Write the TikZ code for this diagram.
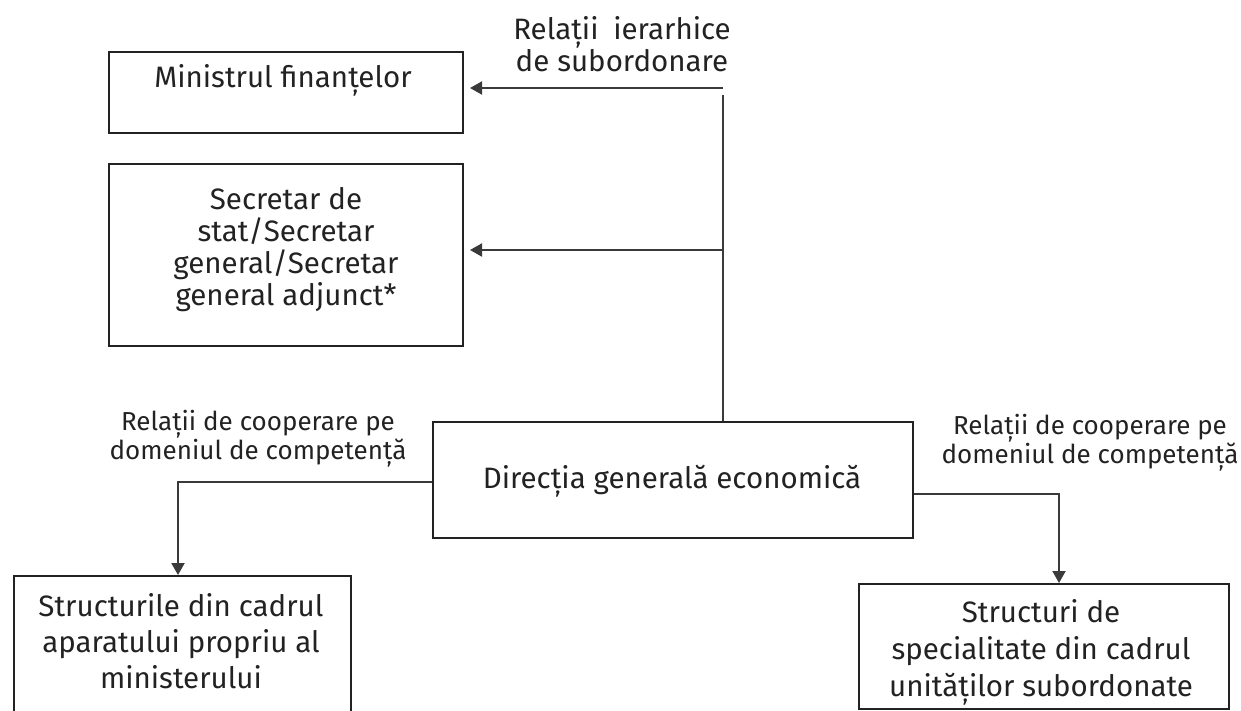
\documentclass[tikz,border=0pt]{standalone}
\usepackage{fontspec}
\setmainfont{Fira Sans}
\usetikzlibrary{arrows.meta}
\definecolor{ink}{HTML}{222222}
\definecolor{wire}{HTML}{3A3A3A}
\tikzset{
  box/.style={draw=ink, line width=2pt, inner sep=0pt},
  txt/.style={text=ink, font=\fontsize{29.5}{32}\selectfont, align=center, inner sep=0pt},
  lbl/.style={text=ink, font=\fontsize{26}{28}\selectfont, align=center, inner sep=0pt},
  conn/.style={draw=wire, line width=2pt},
  arr/.style={conn, -{Triangle[length=12pt,width=13pt]}},
}
\begin{document}
\begin{tikzpicture}[x=1pt,y=-1pt]
\useasboundingbox (0,0) rectangle (1241,710);
% boxes
\node[box, anchor=north west, minimum width=354pt, minimum height=81pt] (min) at (108,51) {};
\node[box, anchor=north west, minimum width=354pt, minimum height=182pt] (sec) at (108,163) {};
\node[box, anchor=north west, minimum width=480pt, minimum height=116pt] (dge) at (432,421) {};
\node[box, anchor=north west, minimum width=337pt, minimum height=145pt] (str) at (13,575) {};
\node[box, anchor=north west, minimum width=370pt, minimum height=125pt] (spe) at (858,583) {};
% box texts
\node[txt] (tmin) at (283,80) {Ministrul finanțelor};
\node[txt] (tsec) at (286,250) {Secretar de\\stat/Secretar\\general/Secretar\\general adjunct*};
\node[txt] (tdge) at (672,481) {Direcția generală economică};
\node[txt, font=\fontsize{29.5}{36}\selectfont] (tstr) at (181,641) {Structurile din cadrul\\aparatului propriu al\\ministerului};
\node[txt, font=\fontsize{29.5}{37}\selectfont] (tspe) at (1041,652) {Structuri de\\specialitate din cadrul\\unităților subordonate};
% labels
\node[txt] (lsub) at (622,44) {Relații\hspace{0.5em}ierarhice\\de subordonare};
\node[lbl] (lcl) at (258,439) {Relații de cooperare pe\\domeniul de competență};
\node[lbl] (lcr) at (1090,443) {Relații de cooperare pe\\domeniul de competență};
% connectors
\coordinate (vt) at (723,95);
\coordinate (ht) at (723,88);
\coordinate (vm) at (723,250);
\draw[conn] (dge.north -| vt) -- (vt);
\draw[arr, shorten >=6pt] (ht) -- (min.east |- ht);
\draw[arr, shorten >=6pt] (vm) -- (sec.east |- vm);
\draw[arr] (dge.west |- 0,482) -| (str.north -| 178,0);
\draw[arr] (dge.east |- 0,494) -| (spe.north -| 1059,0);
\end{tikzpicture}
\end{document}
